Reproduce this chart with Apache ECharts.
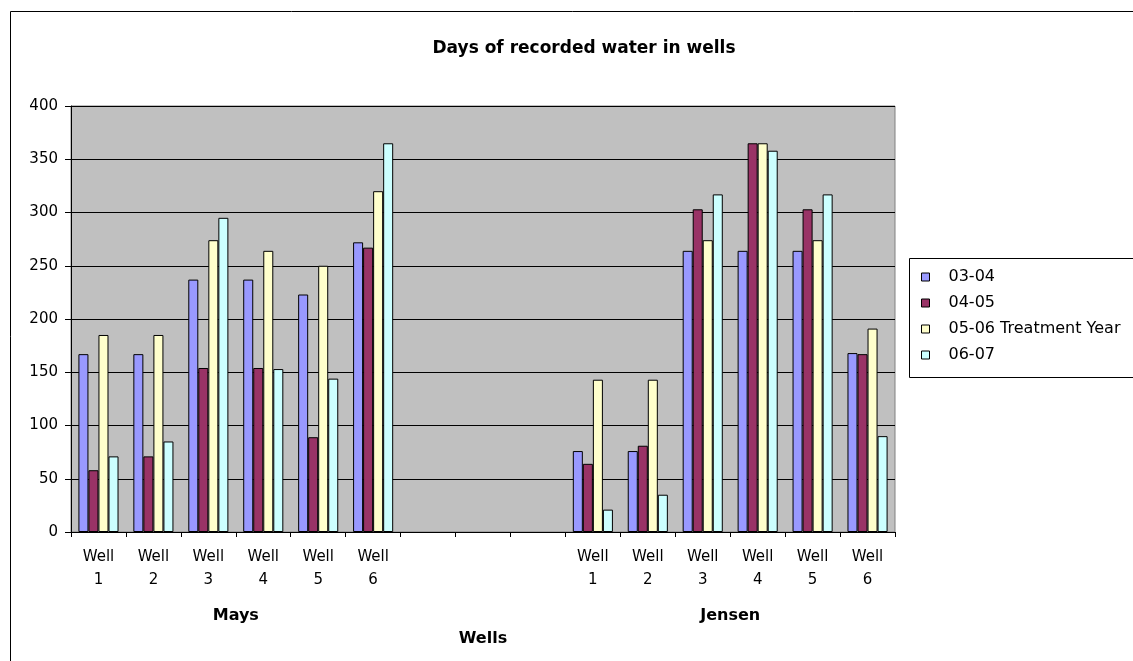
<!DOCTYPE html>
<html>
<head>
<meta charset="utf-8">
<script src="https://cdn.jsdelivr.net/npm/echarts@6/dist/echarts.min.js"></script>
<style>
  html, body { margin: 0; padding: 0; background: #fff; }
  #chart { width: 1133px; height: 661px; }
</style>
</head>
<body>
<div id="chart"></div>
<script>
// Wells along the category axis: Mays 1-6, three empty slots, Jensen 1-6
const categories = [
  'Well\n1', 'Well\n2', 'Well\n3', 'Well\n4', 'Well\n5', 'Well\n6',
  '', '', '',
  'Well\n1', 'Well\n2', 'Well\n3', 'Well\n4', 'Well\n5', 'Well\n6'
];
// Site groups: name and centre position in category units
const groupNames = ['Mays', 'Jensen'];
const groupCentres = [3, 12];

const seriesNames = ['03-04', '04-05', '05-06 Treatment Year', '06-07'];
const days0304 = [167, 167, 237, 237, 223, 272, null, null, null, 76, 76, 264, 264, 264, 168];
const days0405 = [58, 71, 154, 154, 89, 267, null, null, null, 64, 81, 303, 365, 303, 167];
const days0506 = [185, 185, 274, 264, 250, 320, null, null, null, 143, 143, 274, 365, 274, 191];
const days0607 = [71, 85, 295, 153, 144, 365, null, null, null, 21, 35, 317, 358, 317, 90];

const yTicks = [0, 50, 100, 150, 200, 250, 300, 350, 400];
const colors = ['#9999FF', '#993366', '#FFFFCC', '#CCFFFF'];
const font = 'DejaVu Sans, Liberation Sans, Arial, sans-serif';

const chart = echarts.init(document.getElementById('chart'), null, { renderer: 'canvas' });

const seriesData = [days0304, days0405, days0506, days0607];

chart.setOption({
  animation: false,
  backgroundColor: '#ffffff',
  title: {
    text: 'Days of recorded water in wells',
    left: 579, top: 35, textAlign: 'center',
    textStyle: { fontFamily: font, fontSize: 17, fontWeight: 'bold', color: '#000' }
  },
  legend: {
    orient: 'vertical',
    left: 916, top: 264,
    itemWidth: 8, itemHeight: 8, itemGap: 10,
    icon: 'rect',
    data: seriesNames,
    textStyle: { fontFamily: font, fontSize: 16, lineHeight: 16, color: '#000', padding: [0, 0, 0, 14] },
    itemStyle: { borderColor: '#000', borderWidth: 1 }
  },
  graphic: [
    { type: 'rect', shape: { x: 10.5, y: 11.5, width: 1140, height: 660 },
      style: { fill: 'none', stroke: '#000', lineWidth: 1 }, silent: true, z: -1 },
    { type: 'rect', shape: { x: 909.5, y: 258.5, width: 240, height: 119 },
      style: { fill: '#fff', stroke: '#000', lineWidth: 1 }, silent: true, z: 0 }
  ],
  grid: {
    left: 71, top: 106, width: 824, height: 426,
    show: true, backgroundColor: '#C0C0C0', borderColor: '#808080', borderWidth: 1
  },
  xAxis: [
    {
      type: 'category',
      data: categories,
      axisLine: { lineStyle: { color: '#000', width: 1 } },
      axisTick: { show: true, length: 5, lineStyle: { color: '#000' } },
      axisLabel: { fontFamily: font, fontSize: 15, color: '#000', lineHeight: 23, margin: 14, interval: 0 },
      name: 'Wells',
      nameLocation: 'middle',
      nameGap: 99,
      nameTextStyle: { fontFamily: font, fontSize: 16, fontWeight: 'bold', color: '#000' }
    },
    {
      type: 'value',
      position: 'bottom',
      min: 0, max: categories.length, interval: 3,
      axisLine: { show: false },
      axisTick: { show: false },
      splitLine: { show: false },
      axisLabel: {
        margin: 76,
        fontFamily: font, fontSize: 16, fontWeight: 'bold', color: '#000',
        formatter: function (v) {
          const i = groupCentres.indexOf(v);
          return i >= 0 ? groupNames[i] : '';
        }
      }
    }
  ],
  yAxis: {
    type: 'value',
    min: 0, max: 400, interval: 50,
    axisLine: { show: true, lineStyle: { color: '#000', width: 1 } },
    axisTick: { show: true, length: 6, lineStyle: { color: '#000' } },
    axisLabel: { fontFamily: font, fontSize: 15, color: '#000', margin: 13,
      formatter: function (v) { return yTicks.indexOf(v) >= 0 ? String(v) : ''; } },
    splitLine: { show: true, lineStyle: { color: '#000', width: 1 } }
  },
  series: seriesNames.map(function (name, i) {
    return {
      name: name,
      type: 'bar',
      xAxisIndex: 0,
      data: seriesData[i],
      barGap: '0%',
      barCategoryGap: '27%',
      itemStyle: { color: colors[i], borderColor: '#000', borderWidth: 1 }
    };
  })
});
</script>
</body>
</html>
